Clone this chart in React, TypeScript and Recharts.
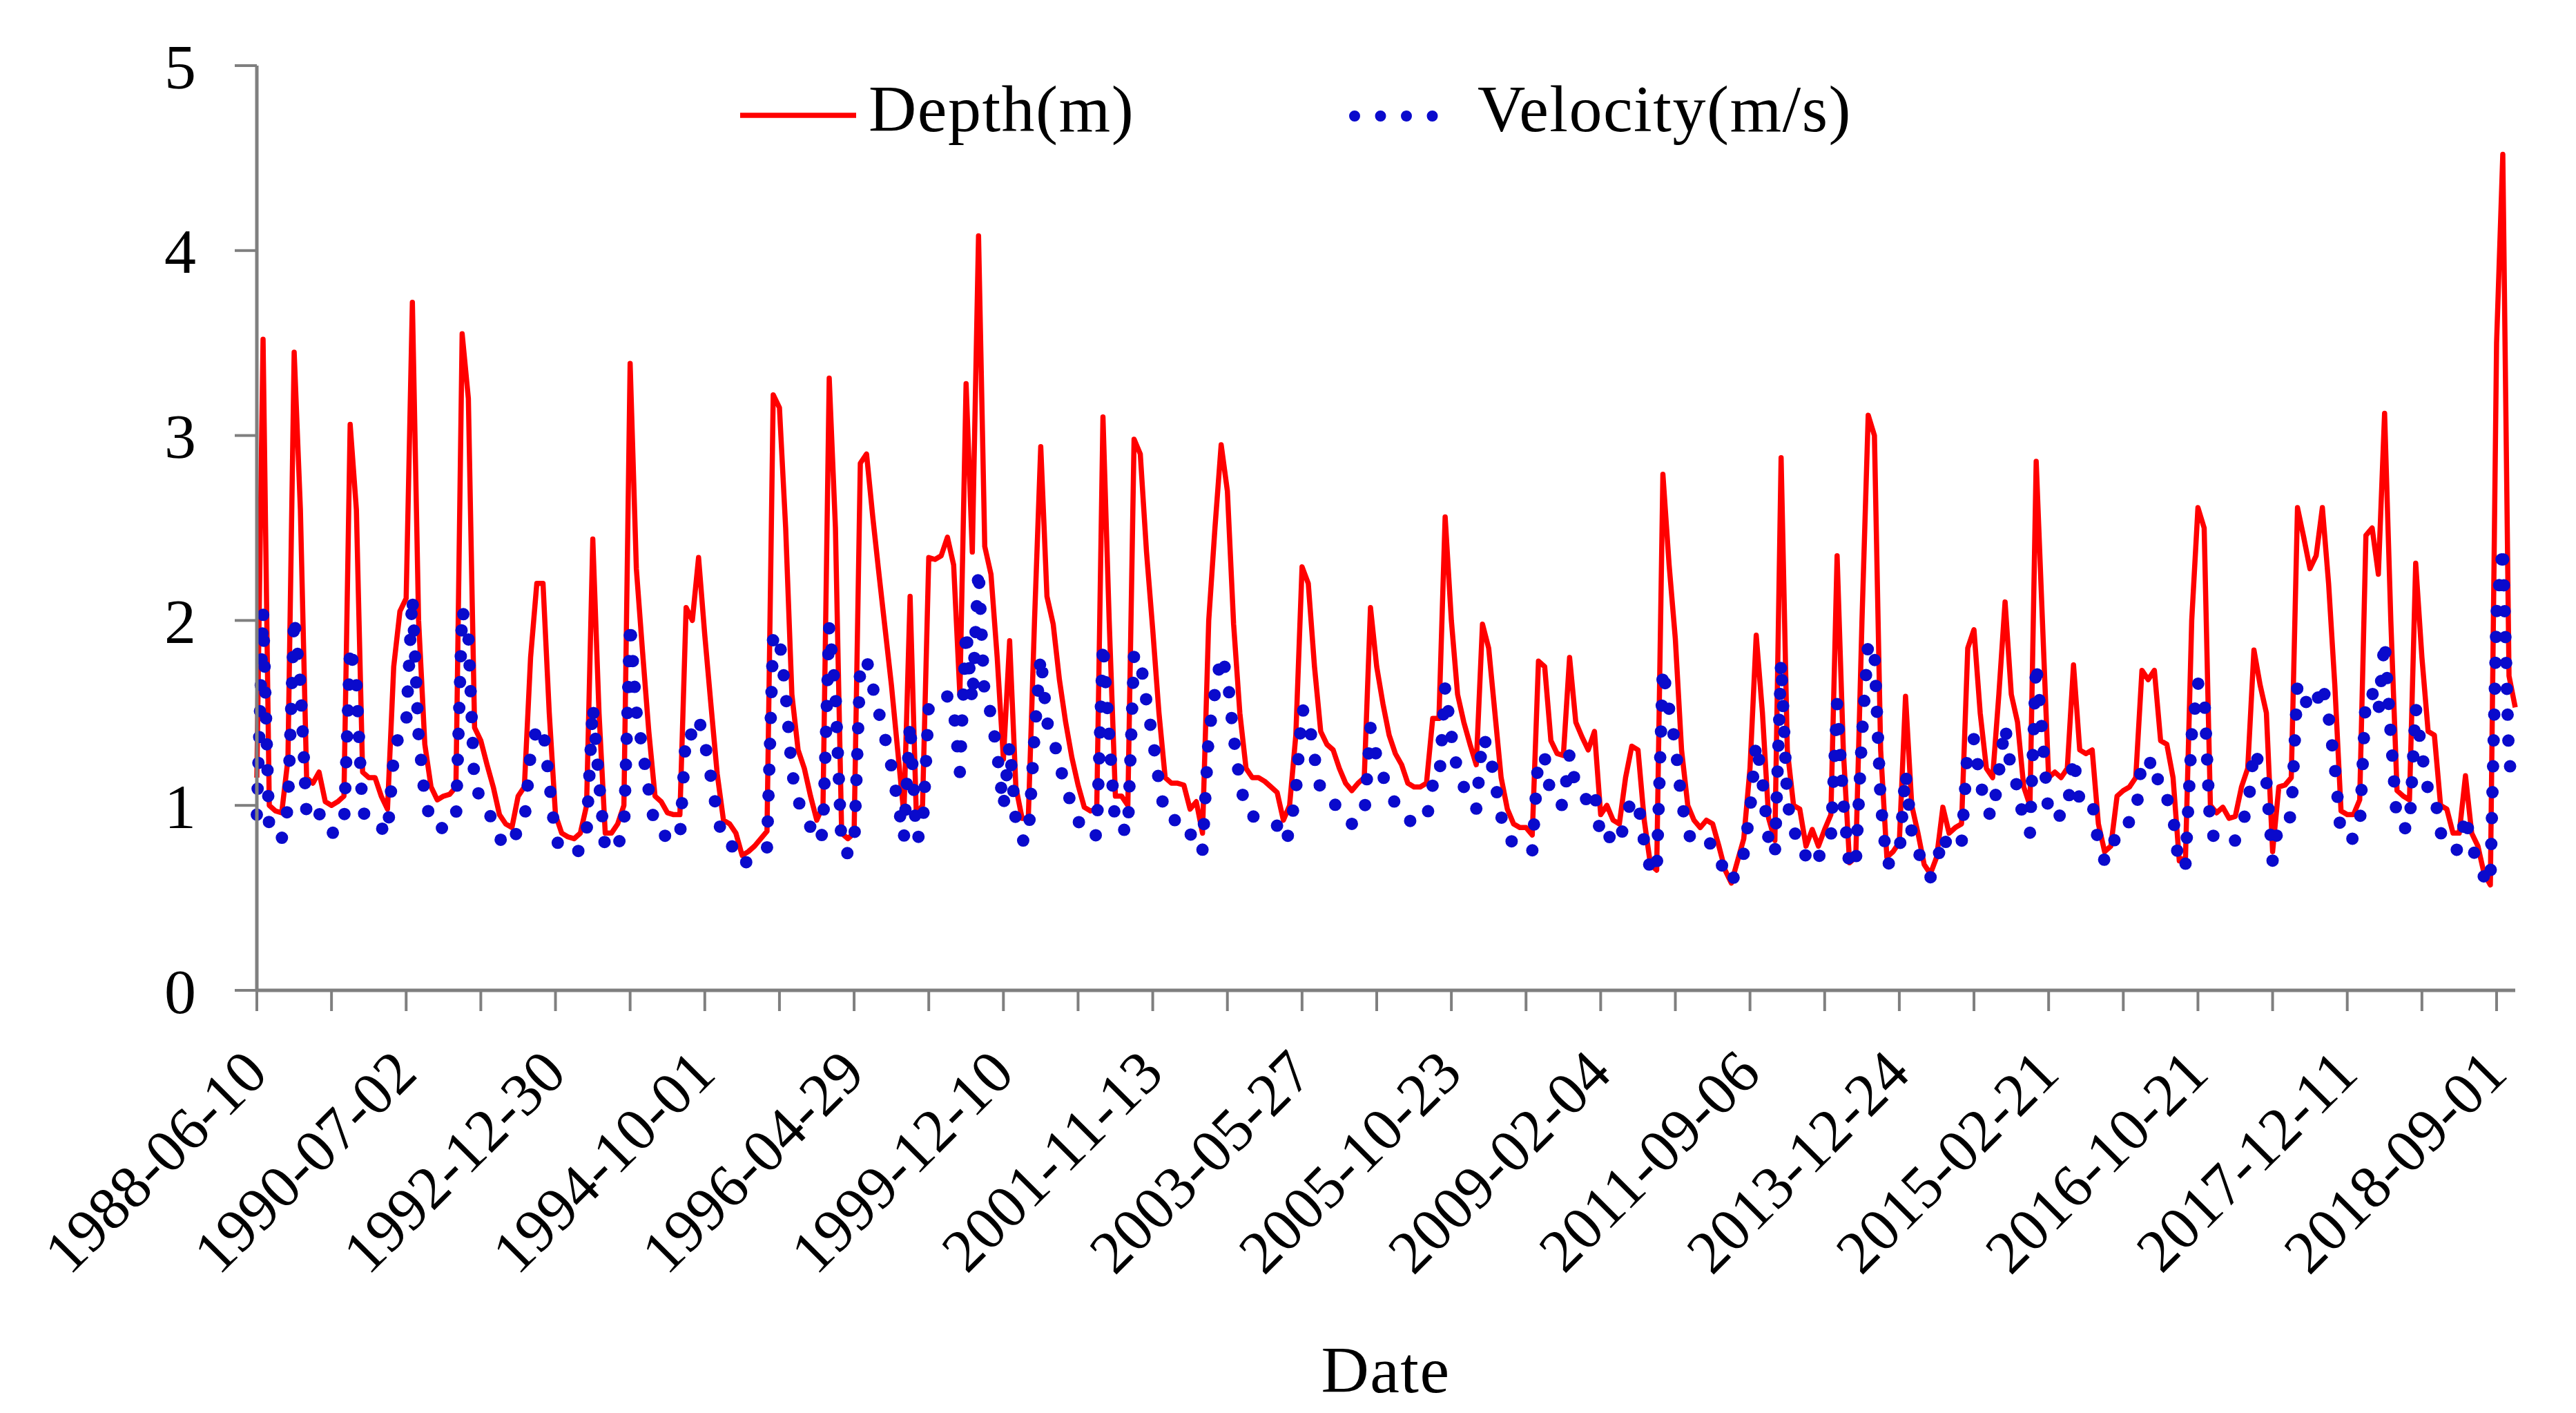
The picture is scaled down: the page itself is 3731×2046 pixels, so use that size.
import React from 'react';
import { LineChart, Line, XAxis, YAxis, Customized } from 'recharts';

const FONT = '"Liberation Serif", "Times New Roman", serif';
const RED = '#FF0000';
const BLUE = '#0A0ACC';
const AXIS = '#7F7F7F';

const xLabels = [
  '1988-06-10', '1990-07-02', '1992-12-30', '1994-10-01', '1996-04-29', '1999-12-10',
  '2001-11-13', '2003-05-27', '2005-10-23', '2009-02-04', '2011-09-06', '2013-12-24',
  '2015-02-21', '2016-10-21', '2017-12-11', '2018-09-01',
];

const yTicks = [0, 1, 2, 3, 4, 5];

const xTickPositions = [
  0, 12, 24, 36, 48, 60, 72, 84, 96, 108, 120, 132, 144, 156, 168, 180,
  192, 204, 216, 228, 240, 252, 264, 276, 288, 300, 312, 324, 336, 348, 360,
];

const depth = [
  1.15, 3.52, 1.0, 0.97, 0.96, 1.25, 3.45, 2.6, 1.15, 1.12, 1.18, 1.02,
  1.0, 1.02, 1.05, 3.06, 2.6, 1.18, 1.15, 1.15, 1.05, 0.98, 1.75, 2.05,
  2.12, 3.72, 2.0, 1.33, 1.1, 1.03, 1.05, 1.06, 1.1, 3.55, 3.2, 1.42,
  1.35, 1.22, 1.1, 0.95, 0.9, 0.88, 1.05, 1.1, 1.8, 2.2, 2.2, 1.5,
  0.95, 0.85, 0.83, 0.82, 0.85, 1.0, 2.44, 1.5, 0.85, 0.85, 0.9, 1.0,
  3.39, 2.28, 1.83, 1.4, 1.05, 1.02, 0.96, 0.95, 0.95, 2.07, 2.0, 2.34,
  1.92, 1.54, 1.17, 0.92, 0.9, 0.85, 0.73, 0.75, 0.78, 0.82, 0.86, 3.22,
  3.15, 2.5, 1.6, 1.3, 1.2, 1.05, 0.92, 1.0, 3.31, 2.5, 0.85, 0.82,
  0.85, 2.85, 2.9, 2.56, 2.25, 1.95, 1.65, 1.3, 0.95, 2.13, 0.95, 1.0,
  2.34, 2.33, 2.35, 2.45, 2.3, 1.6, 3.28, 2.37, 4.08, 2.4, 2.25, 1.8,
  1.25, 1.89, 1.1, 0.93, 0.93, 2.0, 2.94, 2.13, 1.98, 1.68, 1.45, 1.26,
  1.11, 0.99, 0.97, 0.98, 3.1, 2.0, 1.05, 1.05, 1.0, 2.98, 2.9, 2.37,
  1.95, 1.5, 1.15, 1.12, 1.12, 1.11, 0.98, 1.02, 0.85, 2.0, 2.5, 2.95,
  2.7, 1.98, 1.5, 1.2, 1.15, 1.15, 1.13, 1.1, 1.07, 0.92, 1.0, 1.38,
  2.29, 2.2, 1.75, 1.4, 1.33, 1.3, 1.2, 1.12, 1.08, 1.12, 1.15, 2.07,
  1.75, 1.55, 1.38, 1.28, 1.22, 1.12, 1.1, 1.1, 1.12, 1.47, 1.47, 2.56,
  2.0, 1.6, 1.45, 1.33, 1.22, 1.98, 1.85, 1.5, 1.15, 0.98, 0.9, 0.88,
  0.88, 0.84, 1.78, 1.75, 1.35, 1.28, 1.27, 1.8, 1.45, 1.37, 1.3, 1.4,
  0.95, 1.0, 0.92, 0.9, 1.15, 1.32, 1.3, 0.92, 0.68, 0.65, 2.79, 2.3,
  1.9, 1.3, 1.0, 0.92, 0.88, 0.92, 0.9, 0.78, 0.65, 0.58, 0.7, 0.82,
  1.2, 1.92, 1.5, 0.93, 0.81, 2.88, 1.3, 1.0, 0.98, 0.78, 0.87, 0.78,
  0.87, 0.95, 2.35, 1.3, 0.69, 0.72, 2.0, 3.11, 3.0, 1.3, 0.72, 0.75,
  0.8, 1.59, 1.0, 0.85, 0.68, 0.63, 0.72, 0.99, 0.85, 0.88, 0.9, 1.85,
  1.95, 1.5, 1.2, 1.15, 1.6, 2.1, 1.6, 1.45, 1.1, 1.0, 2.86, 2.0,
  1.15, 1.18, 1.15, 1.2, 1.76, 1.3, 1.28, 1.3, 0.9, 0.75, 0.78, 1.05,
  1.08, 1.1, 1.15, 1.73, 1.68, 1.73, 1.35, 1.33, 1.15, 0.7, 0.72, 2.0,
  2.61, 2.5, 1.0, 0.96, 0.99, 0.93, 0.94, 1.1, 1.2, 1.84, 1.65, 1.5,
  0.75, 1.1, 1.11, 1.15, 2.61, 2.45, 2.28, 2.35, 2.61, 2.2, 1.65, 0.97,
  0.95, 0.95, 1.03, 2.46, 2.5, 2.25, 3.12, 2.0, 1.08, 1.05, 1.03, 2.31,
  1.8, 1.4, 1.38, 1.0, 0.98, 0.85, 0.85, 1.16, 0.85, 0.78, 0.63, 0.57,
  3.5, 4.52, 1.7, 1.53,
];

const velocity = [
  0.95, 2.05, 0.85, 0.83, 0.82, 0.99, 2.02, 1.66, 0.94, 0.92, 0.96, 0.86,
  0.85, 0.86, 0.88, 1.86, 1.66, 0.96, 0.94, 0.94, 0.88, 0.84, 1.26, 1.41,
  1.44, 2.13, 1.38, 1.04, 0.91, 0.87, 0.88, 0.89, 0.91, 2.06, 1.92, 1.09,
  1.05, 0.98, 0.91, 0.82, 0.79, 0.78, 0.88, 0.91, 1.28, 1.42, 1.42, 1.13,
  0.82, 0.76, 0.75, 0.74, 0.76, 0.85, 1.54, 1.13, 0.76, 0.76, 0.79, 0.85,
  1.99, 1.51, 1.30, 1.08, 0.88, 0.86, 0.82, 0.82, 0.82, 1.40, 1.38, 1.47,
  1.34, 1.15, 0.95, 0.80, 0.79, 0.76, 0.68, 0.70, 0.72, 0.74, 0.77, 1.93,
  1.90, 1.61, 1.18, 1.02, 0.97, 0.88, 0.80, 0.85, 1.97, 1.61, 0.76, 0.74,
  0.76, 1.77, 1.79, 1.64, 1.50, 1.36, 1.21, 1.02, 0.82, 1.45, 0.82, 0.85,
  1.54, 1.54, 1.55, 1.59, 1.52, 1.18, 1.95, 1.56, 2.28, 1.57, 1.50, 1.28,
  0.99, 1.33, 0.91, 0.81, 0.81, 1.38, 1.81, 1.45, 1.37, 1.22, 1.10, 1.00,
  0.92, 0.84, 0.83, 0.84, 1.88, 1.38, 0.88, 0.88, 0.85, 1.82, 1.79, 1.56,
  1.36, 1.13, 0.94, 0.92, 0.92, 0.92, 0.84, 0.86, 0.76, 1.38, 1.61, 1.81,
  1.70, 1.37, 1.13, 0.97, 0.94, 0.94, 0.93, 0.91, 0.89, 0.80, 0.85, 1.07,
  1.52, 1.48, 1.26, 1.08, 1.04, 1.02, 0.97, 0.92, 0.90, 0.92, 0.94, 1.42,
  1.26, 1.16, 1.07, 1.01, 0.98, 0.92, 0.91, 0.91, 0.92, 1.11, 1.11, 1.64,
  1.38, 1.18, 1.10, 1.04, 0.98, 1.37, 1.31, 1.13, 0.94, 0.84, 0.79, 0.78,
  0.78, 0.75, 1.27, 1.26, 1.05, 1.01, 1.00, 1.28, 1.10, 1.06, 1.02, 1.08,
  0.82, 0.85, 0.80, 0.79, 0.94, 1.03, 1.02, 0.80, 0.65, 0.63, 1.74, 1.52,
  1.33, 1.02, 0.85, 0.80, 0.78, 0.80, 0.79, 0.72, 0.63, 0.58, 0.66, 0.74,
  0.97, 1.34, 1.13, 0.81, 0.73, 1.78, 1.02, 0.85, 0.84, 0.72, 0.77, 0.72,
  0.77, 0.82, 1.55, 1.02, 0.66, 0.68, 1.38, 1.88, 1.83, 1.02, 0.68, 0.70,
  0.73, 1.18, 0.85, 0.76, 0.65, 0.61, 0.68, 0.84, 0.76, 0.78, 0.79, 1.31,
  1.36, 1.13, 0.97, 0.94, 1.18, 1.43, 1.18, 1.10, 0.91, 0.85, 1.77, 1.38,
  0.94, 0.96, 0.94, 0.97, 1.26, 1.02, 1.01, 1.02, 0.79, 0.70, 0.72, 0.88,
  0.90, 0.91, 0.94, 1.25, 1.22, 1.25, 1.05, 1.04, 0.94, 0.66, 0.68, 1.38,
  1.66, 1.61, 0.85, 0.82, 0.84, 0.81, 0.81, 0.91, 0.97, 1.30, 1.21, 1.13,
  0.70, 0.91, 0.92, 0.94, 1.66, 1.59, 1.51, 1.55, 1.66, 1.48, 1.21, 0.83,
  0.82, 0.82, 0.87, 1.60, 1.61, 1.50, 1.89, 1.38, 0.90, 0.88, 0.87, 1.53,
  1.28, 1.08, 1.07, 0.85, 0.84, 0.76, 0.76, 0.95, 0.76, 0.72, 0.61, 0.57,
  2.04, 2.40, 1.23, 1.12,
];

const data = depth.map((d, i) => ({ i, depth: d, velocity: velocity[i] }));
const lastIndex = depth.length - 1;

const DateTick = (props: any) => {
  const { x, y, payload } = props;
  const v = payload ? payload.value : 0;
  if (v % 24 !== 0) return <g />;
  const label = xLabels[v / 24];
  const ax = x + 19;
  const ay = y + 92;
  return (
    <text
      x={ax}
      y={ay}
      transform={`rotate(-45 ${ax} ${ay})`}
      textAnchor="end"
      fontSize={88}
      fontFamily={FONT}
      fill="#000"
    >
      {label}
    </text>
  );
};

const LegendBox = () => (
  <g>
    <line x1={1072} y1={167} x2={1240} y2={167} stroke={RED} strokeWidth={7.5} />
    <text x={1258} y={190} fontSize={96} fontFamily={FONT} letterSpacing={1.5} fill="#000">
      Depth(m)
    </text>
    <line
      x1={1962}
      y1={168}
      x2={2112}
      y2={168}
      stroke={BLUE}
      strokeWidth={16}
      strokeDasharray="0 37.5"
      strokeLinecap="round"
    />
    <text x={2140} y={190} fontSize={96} fontFamily={FONT} letterSpacing={1.5} fill="#000">
      Velocity(m/s)
    </text>
    <text x={2007} y={2016} textAnchor="middle" fontSize={96} fontFamily={FONT} letterSpacing={1.5} fill="#000">
      Date
    </text>
  </g>
);

export default function App() {
  return (
    <div style={{ width: 3731, height: 2046, overflow: 'hidden', background: '#fff' }}>
      <style>{'body{margin:0;overflow:hidden;background:#fff}'}</style>
      <LineChart
        width={3731}
        height={2046}
        data={data}
        margin={{ top: 95, right: 88, bottom: 0, left: 0 }}
      >
        <XAxis
          dataKey="i"
          type="number"
          domain={[0, lastIndex]}
          ticks={xTickPositions}
          interval={0}
          tick={<DateTick />}
          tickSize={30}
          tickLine={{ stroke: AXIS, strokeWidth: 4 }}
          axisLine={{ stroke: AXIS, strokeWidth: 5 }}
          height={612}
        />
        <YAxis
          domain={[0, 5]}
          ticks={yTicks}
          interval={0}
          width={372}
          tickSize={32}
          tickMargin={56}
          tickLine={{ stroke: AXIS, strokeWidth: 4 }}
          axisLine={{ stroke: AXIS, strokeWidth: 5 }}
          tick={{ fontSize: 92, fill: '#000', fontFamily: FONT }}
        />
        <Line
          type="linear"
          dataKey="depth"
          stroke={RED}
          strokeWidth={7.5}
          strokeLinejoin="round"
          dot={false}
          activeDot={false}
          isAnimationActive={false}
        />
        <Line
          type="linear"
          dataKey="velocity"
          stroke={BLUE}
          strokeWidth={18}
          strokeDasharray="0 37.5"
          strokeLinecap="round"
          dot={false}
          activeDot={false}
          isAnimationActive={false}
        />
        <Customized component={LegendBox} />
      </LineChart>
    </div>
  );
}
